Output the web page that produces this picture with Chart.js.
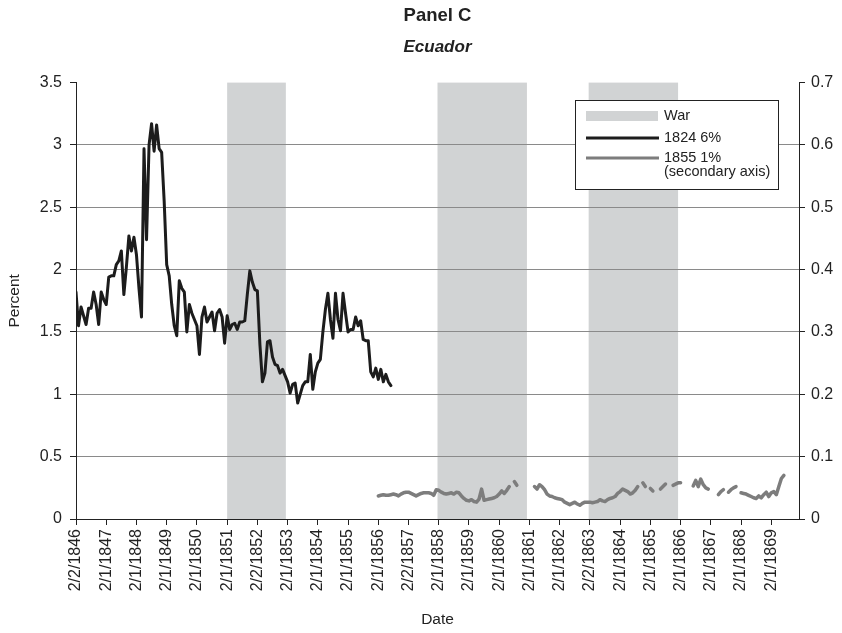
<!DOCTYPE html>
<html lang="en">
<head>
<meta charset="UTF-8">
<script src="https://cdn.jsdelivr.net/npm/chart.js"></script>
<style>
    body { margin: 0; background: #fff; }
    #wrap { width: 842px; height: 633px; }
</style>
</head>
<body>
<div id="wrap"><canvas id="chart" width="842" height="633"></canvas></div>
<script>
// months counted from Feb 1846 (index 0)
const tickMonths = [0, 12, 24, 36, 48, 60, 72, 84, 96, 108, 120, 132, 144, 156, 168, 180, 192, 204, 216, 228, 240, 252, 264, 276];
const tickLabels = ['2/2/1846', '2/1/1847', '2/1/1848', '2/1/1849', '2/1/1850', '2/1/1851', '2/2/1852', '2/1/1853',
    '2/1/1854', '2/1/1855', '2/1/1856', '2/2/1857', '2/1/1858', '2/1/1859', '2/1/1860', '2/1/1861',
    '2/1/1862', '2/2/1863', '2/1/1864', '2/1/1865', '2/1/1866', '2/1/1867', '2/1/1868', '2/1/1869'];
const warStarts = [60, 143.5, 203.5];
const warEnds = [83.3, 179, 239];

const series1824Start = 0;
const series1824 = [
    1.82, 1.55, 1.70, 1.63, 1.56, 1.69, 1.69, 1.82, 1.72, 1.56,
    1.82, 1.76, 1.72, 1.94, 1.95, 1.95, 2.04, 2.07, 2.15, 1.80,
    2.02, 2.27, 2.15, 2.26, 2.12, 1.85, 1.62, 2.97, 2.24, 3.00,
    3.17, 2.95, 3.16, 2.97, 2.94, 2.55, 2.04, 1.95, 1.72, 1.55,
    1.47, 1.91, 1.85, 1.82, 1.50, 1.72, 1.65, 1.60, 1.55, 1.32,
    1.62, 1.70, 1.58, 1.62, 1.66, 1.51, 1.65, 1.68, 1.62, 1.41,
    1.63, 1.52, 1.56, 1.57, 1.52, 1.58, 1.58, 1.59, 1.80, 1.99,
    1.90, 1.84, 1.83, 1.40, 1.10, 1.17, 1.42, 1.43, 1.30, 1.24,
    1.23, 1.17, 1.20, 1.15, 1.10, 1.01, 1.08, 1.09, 0.93, 1.00,
    1.07, 1.10, 1.10, 1.32, 1.04, 1.18, 1.25, 1.28, 1.50, 1.68,
    1.81, 1.60, 1.45, 1.81, 1.60, 1.51, 1.81, 1.65, 1.50, 1.52,
    1.52, 1.62, 1.55, 1.59, 1.44, 1.43, 1.43, 1.18, 1.14, 1.21,
    1.12, 1.20, 1.10, 1.16, 1.10, 1.07
];

const series1855Start = 120;
const series1855 = [
    0.037, 0.038, 0.039, 0.038, 0.038, 0.039, 0.040, 0.039, 0.037, 0.040,
    0.042, 0.043, 0.043, 0.041, 0.039, 0.037, 0.039, 0.041, 0.042, 0.042,
    0.042, 0.041, 0.038, 0.047, 0.046, 0.043, 0.041, 0.040, 0.041, 0.042,
    0.040, 0.043, 0.042, 0.037, 0.033, 0.030, 0.029, 0.031, 0.028, 0.027,
    0.032, 0.048, 0.030, 0.031, 0.032, 0.033, 0.034, 0.036, 0.040, 0.045,
    0.041, 0.046, 0.052, null, 0.060, 0.054, null, null, null, null,
    null, null, 0.052, 0.048, 0.055, 0.052, 0.047, 0.040, 0.037, 0.036,
    0.034, 0.033, 0.032, 0.031, 0.027, 0.025, 0.023, 0.025, 0.027, 0.024,
    0.022, 0.025, 0.027, 0.027, 0.027, 0.026, 0.027, 0.028, 0.031, 0.029,
    0.028, 0.031, 0.033, 0.034, 0.036, 0.041, 0.044, 0.048, 0.046, 0.044,
    0.040, 0.042, 0.046, 0.052, null, 0.058, 0.052, null, 0.049, 0.045,
    null, null, 0.048, 0.052, 0.056, null, null, 0.054, 0.056, 0.058,
    0.058, null, null, null, null, 0.053, 0.062, 0.052, 0.064, 0.055,
    0.050, 0.048, null, null, null, 0.039, 0.044, 0.047, null, 0.043,
    0.047, 0.050, 0.052, null, 0.042, 0.041, 0.040, 0.038, 0.036, 0.034,
    0.033, 0.037, 0.034, 0.039, 0.043, 0.036, 0.042, 0.044, 0.039, 0.052,
    0.065, 0.070
];

const FONT = 'Liberation Sans, Arial, Helvetica, sans-serif';
const WAR_COLOR = '#d1d3d4';
const BLACK_LINE = '#1c1c1c';
const GRAY_LINE = '#7d7d7d';

// grey bands behind the grid
const warShading = {
    id: 'warShading',
    beforeDraw(chart) {
        const { ctx, chartArea, scales } = chart;
        ctx.save();
        ctx.fillStyle = WAR_COLOR;
        warStarts.forEach((s, i) => {
            const x1 = scales.x.getPixelForValue(s);
            const x2 = scales.x.getPixelForValue(warEnds[i]);
            ctx.fillRect(x1, chartArea.top, x2 - x1, chartArea.bottom - chartArea.top);
        });
        ctx.restore();
    }
};

// boxed legend inside the plot
const boxLegend = {
    id: 'boxLegend',
    afterDraw(chart) {
        const ctx = chart.ctx;
        const bx = 575, by = 100, bw = 203, bh = 89;
        ctx.save();
        ctx.fillStyle = '#fff';
        ctx.fillRect(bx, by, bw, bh);
        ctx.strokeStyle = '#222';
        ctx.lineWidth = 1;
        ctx.strokeRect(bx + 0.5, by + 0.5, bw, bh);

        ctx.fillStyle = WAR_COLOR;
        ctx.fillRect(586, 111, 72, 10);

        ctx.lineWidth = 3;
        ctx.strokeStyle = BLACK_LINE;
        ctx.beginPath(); ctx.moveTo(586, 138); ctx.lineTo(659, 138); ctx.stroke();
        ctx.strokeStyle = GRAY_LINE;
        ctx.beginPath(); ctx.moveTo(586, 158); ctx.lineTo(659, 158); ctx.stroke();

        ctx.fillStyle = '#222';
        ctx.font = '14.5px ' + FONT;
        ctx.textBaseline = 'middle';
        ctx.fillText('War', 664, 116);
        ctx.fillText('1824 6%', 664, 138);
        ctx.fillText('1855 1%', 664, 158);
        ctx.fillText('(secondary axis)', 664, 172);
        ctx.restore();
    }
};

const blackPoints = series1824.map((v, i) => ({ x: series1824Start + i, y: v }));
const grayPoints = series1855.map((v, i) => ({ x: series1855Start + i, y: v }));

Chart.defaults.font.family = FONT;
Chart.defaults.color = '#222';

const plainNumber = v => String(Math.round(v * 100) / 100);

new Chart(document.getElementById('chart'), {
    type: 'line',
    data: {
        datasets: [
            {
                label: '1824 6%',
                data: blackPoints,
                borderColor: BLACK_LINE,
                borderWidth: 3,
                borderJoinStyle: 'round',
                borderCapStyle: 'round',
                pointRadius: 0,
                tension: 0,
                yAxisID: 'y'
            },
            {
                label: '1855 1% (secondary axis)',
                data: grayPoints,
                borderColor: GRAY_LINE,
                borderWidth: 3.5,
                borderJoinStyle: 'round',
                borderCapStyle: 'round',
                pointRadius: 0,
                tension: 0,
                spanGaps: false,
                yAxisID: 'y2'
            }
        ]
    },
    options: {
        responsive: false,
        animation: false,
        layout: { padding: { top: 0, left: 0, right: 0, bottom: 0 } },
        plugins: {
            legend: { display: false },
            tooltip: { enabled: false },
            title: {
                display: true,
                text: 'Panel C',
                fullSize: false,
                font: { size: 18.5, weight: 'bold' },
                padding: { top: 5, bottom: 0 }
            },
            subtitle: {
                display: true,
                text: 'Ecuador',
                fullSize: false,
                color: '#222',
                font: { size: 17, weight: 'bold', style: 'italic', family: FONT },
                padding: { top: 10, bottom: 25 }
            }
        },
        scales: {
            x: {
                type: 'linear',
                min: 0,
                max: 287,
                afterBuildTicks(scale) {
                    scale.ticks = tickMonths.map(v => ({ value: v }));
                },
                afterFit(scale) { scale.height = 114; },
                ticks: {
                    autoSkip: false,
                    minRotation: 90,
                    maxRotation: 90,
                    padding: 4,
                    font: { size: 16 },
                    callback(value) {
                        const i = tickMonths.indexOf(value);
                        return i >= 0 ? tickLabels[i] : '';
                    }
                },
                grid: { drawOnChartArea: false, drawTicks: true, tickLength: 6, tickColor: '#222' },
                border: { color: '#222', width: 1 },
                title: { display: true, text: 'Date', font: { size: 15.5 }, padding: { top: 4, bottom: 4 } }
            },
            y: {
                position: 'left',
                min: 0,
                max: 3.5,
                afterFit(scale) { scale.width = 76; },
                ticks: { stepSize: 0.5, padding: 8, font: { size: 16 }, callback: plainNumber },
                grid: {
                    color: ctx => ctx.tick && ctx.tick.value === 3.5 ? 'rgba(0,0,0,0)' : (ctx.tick && ctx.tick.value === 0 ? '#222' : '#8a8a8a'),
                    lineWidth: 1,
                    tickLength: 6,
                    tickColor: '#222'
                },
                border: { color: '#222', width: 1 },
                title: { display: true, text: 'Percent', font: { size: 15.5 }, padding: { top: 5, bottom: 0 } }
            },
            y2: {
                position: 'right',
                min: 0,
                max: 0.7,
                afterFit(scale) { scale.width = 43; },
                ticks: { stepSize: 0.1, padding: 6, font: { size: 16 }, callback: plainNumber },
                grid: { drawOnChartArea: false, tickLength: 6, tickColor: '#222' },
                border: { color: '#222', width: 1 }
            }
        }
    },
    plugins: [warShading, boxLegend]
});
</script>
</body>
</html>
